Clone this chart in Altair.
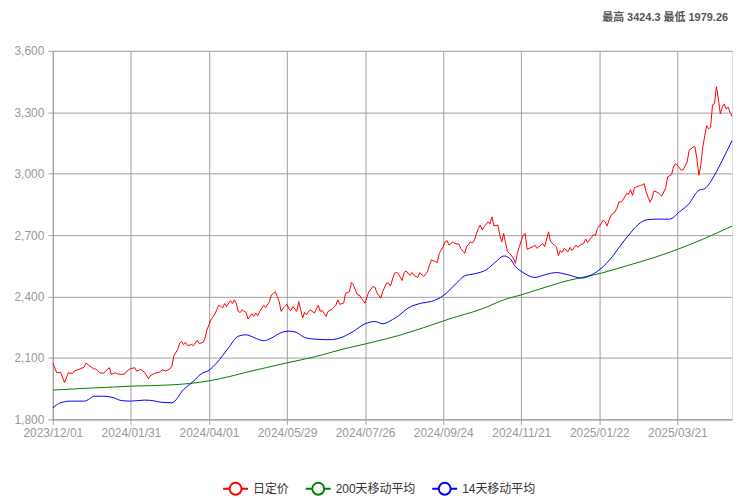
import altair as alt
import pandas as pd

# ---- data ----
x_labels = ["2023/12/01", "2024/01/31", "2024/04/01", "2024/05/29", "2024/07/26",
            "2024/09/24", "2024/11/21", "2025/01/22", "2025/03/21"]
label_step = 40          # trading days between x labels
last_day = 348           # last trading-day index

series_names = ["日定价", "200天移动平均", "14天移动平均"]
series_colors = ["#ff0000", "#008000", "#0000ff"]
title_text = "最高 3424.3 最低 1979.26"

price_points = [
    (0, 2075), (2, 2027), (4, 2030), (6, 1979.26), (8, 2028), (10, 2023), (11, 2036), (13, 2043),
    (16, 2054), (17, 2075), (19, 2060), (21, 2046), (22, 2046), (24, 2028), (26, 2025), (27, 2036),
    (29, 2052), (30, 2019), (32, 2028), (33, 2023), (35, 2019), (37, 2023), (38, 2036), (40, 2048),
    (42, 2052), (43, 2035), (45, 2044), (47, 2030), (49, 1998), (50, 2014), (52, 2024), (55, 2032),
    (56, 2042), (58, 2036), (60, 2047), (61, 2059), (62, 2111), (64, 2141), (65, 2173), (66, 2181),
    (67, 2165), (68, 2176), (69, 2160), (71, 2165), (72, 2160), (74, 2186), (75, 2170), (77, 2176),
    (78, 2197), (79, 2238), (81, 2286), (83, 2314), (84, 2335), (85, 2357), (86, 2351), (87, 2345),
    (88, 2366), (89, 2351), (91, 2380), (92, 2366), (93, 2384), (94, 2366), (95, 2327), (96, 2322),
    (97, 2335), (99, 2322), (100, 2290), (102, 2316), (103, 2303), (104, 2319), (105, 2306), (106, 2327),
    (108, 2357), (109, 2346), (111, 2375), (112, 2408), (114, 2424), (115, 2400), (116, 2375), (117, 2327),
    (118, 2343), (120, 2362), (121, 2338), (122, 2332), (123, 2351), (125, 2327), (126, 2375), (127, 2335),
    (128, 2295), (129, 2322), (130, 2311), (131, 2327), (132, 2335), (134, 2319), (136, 2357), (137, 2327),
    (138, 2332), (140, 2303), (141, 2327), (143, 2338), (145, 2357), (146, 2384), (147, 2362), (149, 2368),
    (150, 2416), (152, 2424), (153, 2468), (154, 2457), (156, 2408), (157, 2408), (158, 2392), (160, 2367),
    (161, 2400), (162, 2424), (164, 2449), (165, 2446), (166, 2419), (168, 2392), (169, 2424), (171, 2465),
    (172, 2465), (173, 2451), (175, 2514), (176, 2518), (177, 2511), (179, 2478), (180, 2517), (181, 2525),
    (183, 2503), (184, 2517), (185, 2503), (187, 2493), (188, 2517), (190, 2498), (192, 2522), (193, 2554),
    (194, 2579), (196, 2570), (197, 2567), (198, 2611), (200, 2643), (201, 2667), (202, 2673), (203, 2651),
    (205, 2667), (206, 2659), (208, 2656), (209, 2635), (211, 2611), (212, 2643), (214, 2667), (215, 2662),
    (216, 2675), (217, 2705), (218, 2732), (219, 2749), (220, 2725), (221, 2741), (223, 2765), (224, 2754),
    (225, 2789), (226, 2745), (228, 2749), (229, 2700), (230, 2667), (231, 2708), (232, 2659), (233, 2619),
    (234, 2611), (236, 2587), (237, 2562), (238, 2611), (239, 2643), (241, 2700), (242, 2708), (243, 2630),
    (244, 2635), (246, 2643), (247, 2651), (248, 2635), (249, 2643), (251, 2659), (252, 2643), (254, 2716),
    (255, 2667), (257, 2651), (258, 2643), (259, 2600), (260, 2624), (261, 2615), (262, 2635), (264, 2619),
    (265, 2640), (266, 2624), (268, 2651), (269, 2640), (270, 2651), (272, 2659), (273, 2681), (274, 2664),
    (276, 2689), (277, 2703), (278, 2697), (279, 2732), (281, 2757), (282, 2773), (283, 2765), (284, 2744),
    (285, 2773), (286, 2797), (288, 2813), (289, 2830), (290, 2862), (291, 2862), (292, 2870), (294, 2903),
    (295, 2900), (296, 2922), (297, 2894), (298, 2932), (300, 2938), (301, 2943), (302, 2945), (303, 2951),
    (304, 2910), (305, 2885), (306, 2860), (307, 2880), (308, 2916), (310, 2908), (312, 2891), (314, 2930),
    (315, 2984), (317, 2995), (318, 3032), (319, 3049), (320, 3041), (322, 3016), (323, 3019), (325, 3057),
    (326, 3114), (328, 3130), (329, 3130), (330, 3073), (331, 2992), (332, 3041), (333, 3130), (335, 3235),
    (336, 3219), (337, 3227), (338, 3336), (339, 3341), (340, 3424.3), (341, 3365), (342, 3292), (343, 3325),
    (344, 3341), (345, 3316), (346, 3325), (347, 3300), (348, 3280),
]

ma14_points = [
    (0, 1857), (4, 1881), (9, 1889), (16, 1889), (19, 1901), (21, 1913), (26, 1913), (31, 1906),
    (35, 1892), (40, 1889), (47, 1894), (52, 1890), (55, 1884), (61, 1881), (67, 1946), (72, 1986),
    (76, 2022), (80, 2040), (84, 2076), (90, 2149), (95, 2206), (99, 2213), (103, 2200), (108, 2184),
    (112, 2197), (117, 2224), (121, 2231), (125, 2224), (129, 2200), (134, 2192), (142, 2189), (147, 2197),
    (154, 2230), (160, 2267), (165, 2278), (169, 2267), (174, 2287), (177, 2305), (182, 2343), (189, 2368),
    (194, 2376), (200, 2404), (206, 2457), (211, 2501), (216, 2511), (222, 2530), (227, 2570), (231, 2598),
    (234, 2587), (237, 2547), (241, 2517), (247, 2493), (252, 2506), (258, 2517), (264, 2506), (271, 2490),
    (276, 2506), (281, 2538), (286, 2587), (291, 2651), (296, 2711), (301, 2760), (305, 2776), (310, 2778),
    (316, 2778), (321, 2813), (326, 2854), (331, 2919), (334, 2927), (339, 2992), (343, 3065), (348, 3162),
]

ma200_points = [
    (0, 1943), (20, 1953), (40, 1962), (60, 1968), (70, 1975), (80, 1988), (90, 2008), (100, 2032),
    (110, 2054), (120, 2076), (134, 2105), (149, 2144), (160, 2168), (177, 2209), (190, 2248), (203, 2290),
    (220, 2340), (232, 2387), (240, 2408), (259, 2465), (264, 2478), (281, 2514), (295, 2553), (307, 2587),
    (320, 2630), (333, 2680), (348, 2744),
]

# ---- build table ----
rows = []
for name, pts in zip(series_names, [price_points, ma200_points, ma14_points]):
    for d, v in pts:
        rows.append({"day": d, "value": v, "series": name})
df = pd.DataFrame(rows)

FONT = "'Liberation Sans', Arial, 'Noto Sans CJK SC', sans-serif"
GRID = "#a0a0a0"
LABEL = "#999999"

label_js = "[" + ",".join("'%s'" % s for s in x_labels) + "]"
tick_vals = [i * label_step for i in range(len(x_labels))]

legend_symbol = ("M-1,0H-0.48M0.48,0H1M-0.48,0A0.48,0.48 0 1,0 0.48,0"
                 "A0.48,0.48 0 1,0 -0.48,0")

x_enc = alt.X("day:Q",
              scale=alt.Scale(domain=[0, last_day], nice=False, zero=False),
              axis=alt.Axis(values=tick_vals, labelExpr=label_js + "[round(datum.value/%d)]" % label_step,
                            title=None, grid=True, gridColor=GRID, tickColor=GRID, domainColor=GRID,
                            labelColor=LABEL, labelFontSize=12, labelFont=FONT, tickSize=5,
                            labelPadding=3, labelFlush=False, labelOverlap=False))
y_enc = alt.Y("value:Q",
              scale=alt.Scale(domain=[1800, 3600], nice=False, zero=False),
              axis=alt.Axis(values=[1800, 2100, 2400, 2700, 3000, 3300, 3600], format=",.0f",
                            title=None, grid=True, gridColor=GRID, tickColor=GRID, domainColor=GRID,
                            labelColor=LABEL, labelFontSize=12, labelFont=FONT, tickSize=5,
                            labelPadding=4, labelFlush=False))
color_enc = alt.Color("series:N",
                      scale=alt.Scale(domain=series_names, range=series_colors),
                      legend=alt.Legend(title=None, orient="none", direction="horizontal",
                                        legendX=170, legendY=426, symbolType=legend_symbol,
                                        symbolSize=625, symbolStrokeWidth=2, symbolFillColor="white",
                                        labelFontSize=12, labelColor="#333333", labelFont=FONT,
                                        labelOffset=4, columnPadding=12))

base = alt.Chart(df).encode(x=x_enc, y=y_enc, color=color_enc)

price_line = base.transform_filter(alt.datum.series == series_names[0]).mark_line(strokeWidth=1)
ma_lines = base.transform_filter(alt.datum.series != series_names[0]).mark_line(
    strokeWidth=1, interpolate="monotone")

chart = alt.layer(ma_lines, price_line).properties(
    width=682, height=370,
    padding={"left": 45, "top": 42, "right": 10, "bottom": 90},
    autosize=alt.AutoSizeParams(type="none"),
    title=alt.TitleParams(text=title_text, anchor="end", orient="top", frame="group",
                          fontSize=11, fontWeight="bold", color="#555555", font=FONT,
                          offset=22, dx=-4),
).configure_view(stroke=GRID).configure(background="white")

chart.save("out.html", embed_options={"renderer": "svg", "actions": False})
